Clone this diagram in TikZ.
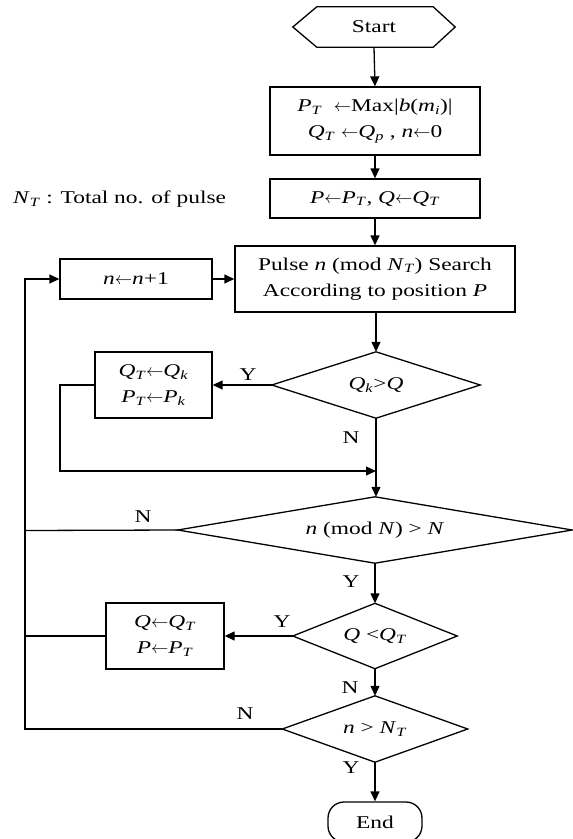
\documentclass[tikz,border=0pt]{standalone}
\usepackage{fontspec}
\setmainfont{Liberation Serif}[FakeStretch=1.3]
\usetikzlibrary{arrows.meta}
\newcommand\isub[1]{\textsubscript{\textit{#1}}}
\newcommand\iv[1]{\textit{#1}}
\newcommand\la{\ensuremath{\leftarrow}}
\begin{document}
\begin{tikzpicture}[x=1pt,y=1pt,
  every node/.style={font=\fontsize{18}{26}\selectfont, inner sep=0pt, align=center},
  box/.style={draw, line width=1.3pt},
  shp/.style={draw=none},
  dia/.style={line width=1.3pt},
  con/.style={line width=1.3pt},
  arr/.style={con, -{Triangle[length=10pt,width=9pt]}},
  lab/.style={font=\fontsize{18}{20}\selectfont}
]
\useasboundingbox (0,0) rectangle (573,-839);

% nodes
\node[shp, minimum width=162, minimum height=40] (start) at (374,-27) {Start};
\draw[dia] (start.west) -- ([xshift=24]start.north west) -- ([xshift=-22]start.north east) -- (start.east) -- ([xshift=-22]start.south east) -- ([xshift=24]start.south west) -- cycle;

\node[box, minimum width=210, minimum height=68] (b1) at (375,-121)
  {\iv{P}\isub{T}\ \ \la Max|\iv{b}(\iv{m}\isub{i})|\\ \iv{Q}\isub{T} \la\iv{Q}\isub{p} , \iv{n}\la0};
\node[box, minimum width=210, minimum height=39] (b2) at (375,-198.5)
  {\iv{P}\la\iv{P}\isub{T}, \iv{Q}\la\iv{Q}\isub{T}};
\node[box, minimum width=280, minimum height=66] (pulse) at (375,-279)
  {Pulse \iv{n} (mod \iv{N}\isub{T}) Search\\ According to position \iv{P}};
\node[box, minimum width=152, minimum height=40] (inc) at (136,-279)
  {\iv{n}\la\iv{n}+1};
\node[anchor=west] (nt) at (13,-199) {\iv{N}\isub{T} : Total no. of pulse};

\node[shp, minimum width=208, minimum height=66] (d1) at (376,-385) {\iv{Q}\isub{k}>\iv{Q}};
\draw[dia] (d1.west) -- (d1.north) -- (d1.east) -- (d1.south) -- cycle;
\node[box, minimum width=117, minimum height=66] (qk) at (153.5,-385)
  {\iv{Q}\isub{T}\la\iv{Q}\isub{k}\\ \iv{P}\isub{T}\la\iv{P}\isub{k}};

\coordinate (merge) at (376,-471);

\node[shp, minimum width=394, minimum height=66] (d2) at (375,-530) {\iv{n} (mod \iv{N}) > \iv{N}};
\draw[dia] (d2.west) -- (d2.north) -- (d2.east) -- (d2.south) -- cycle;

\node[shp, minimum width=164, minimum height=65] (d3) at (375,-636) {\iv{Q} <\iv{Q}\isub{T}};
\draw[dia] (d3.west) -- (d3.north) -- (d3.east) -- (d3.south) -- cycle;
\node[box, minimum width=118, minimum height=66] (qb) at (165,-636)
  {\iv{Q}\la\iv{Q}\isub{T}\\ \iv{P}\la\iv{P}\isub{T}};

\node[shp, minimum width=185, minimum height=66] (d4) at (375,-729) {\iv{n} > \iv{N}\isub{T}};
\draw[dia] (d4.west) -- (d4.north) -- (d4.east) -- (d4.south) -- cycle;

\node[box, rounded corners=16pt, minimum width=94, minimum height=40] (end) at (375,-822) {End};

% connectors
\draw[arr] (start.south) -- (b1.north);
\draw[arr] (b1.south) -- (b2.north);
\draw[arr] (b2.south) -- (pulse.north);
\draw[arr] (inc.east) -- (pulse.west);
\draw[arr] (pulse.south -| d1.north) -- (d1.north);
\draw[arr] (d1.west) -- (qk.east) node[lab, pos=0.4, above=4pt] {Y};
\draw[arr] (qk.west) -- (60,-385) -- (60,-471) -- (merge);
\draw[arr] (d1.south) -- (d1.south |- d2.north);
\node[lab] (n1) at (351,-438) {N};
\draw[con] (d2.west) -- (25,-530.5);
\node[lab] (n2) at (143,-517) {N};
\draw[arr] (d2.south) -- (d3.north);
\node[lab] (y2) at (351,-582) {Y};
\draw[arr] (d3.west) -- (qb.east);
\node[lab] (y3) at (282,-622) {Y};
\draw[con] (qb.west) -- (25,-636);
\draw[arr] (d3.south) -- (d4.north);
\node[lab] (n3) at (350,-688) {N};
\draw[arr] (d4.west) -- (25,-729) -- (25,-279) -- (inc.west);
\node[lab] (n4) at (245,-714) {N};
\draw[arr] (d4.south) -- (end.north);
\node[lab] (y4) at (351,-768) {Y};
\end{tikzpicture}
\end{document}
